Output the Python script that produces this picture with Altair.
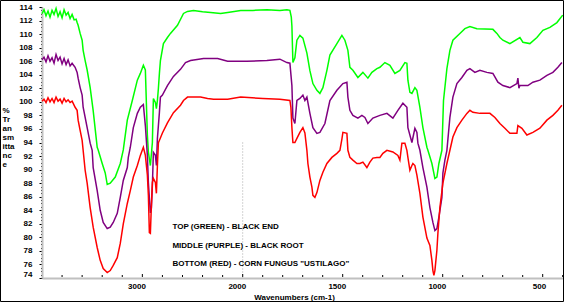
import altair as alt
import pandas as pd

# ---------------- data (wavenumber cm-1, % transmittance) ----------------
green_wn = [4000, 3980, 3960, 3940, 3920, 3900, 3880, 3860, 3840, 3820, 3800, 3780, 3760, 3740, 3720, 3700, 3680,
            3660, 3650, 3640, 3620, 3600, 3590, 3570, 3550, 3520, 3490, 3450, 3440, 3400, 3370, 3350, 3320, 3270,
            3220, 3190, 3150, 3100, 3050, 3020, 2990, 2970, 2950, 2940, 2920, 2900, 2890, 2870, 2860, 2850, 2840,
            2830, 2820, 2790, 2750, 2720, 2650, 2590, 2550, 2490, 2400, 2320, 2220, 2150, 2020, 1949, 1879, 1814,
            1779, 1764, 1757, 1754, 1749, 1739, 1729, 1714, 1699, 1679, 1664, 1649, 1629, 1614, 1599, 1579, 1564,
            1529, 1504, 1489, 1474, 1464, 1449, 1424, 1399, 1374, 1354, 1329, 1314, 1289, 1264, 1239, 1214, 1189,
            1179, 1174, 1164, 1154, 1139, 1129, 1114, 1099, 1079, 1074, 1054, 1039, 1029, 1019, 1004, 996, 979,
            964, 949, 914, 889, 864, 829, 749, 729, 714, 699, 664, 614, 599, 564, 529, 499, 464, 429, 400]
green_t = [113.0, 113.6, 112.7, 113.4, 112.5, 113.5, 112.9, 113.8, 112.6, 113.3, 112.4, 113.6, 112.8, 113.2, 112.3,
           112.9, 112.1, 112.2, 111.7, 111.3, 110.1, 109.1, 107.6, 106.1, 104.7, 102.1, 98.7, 93.3, 92.9, 90.9, 89.5,
           87.8, 88.0, 88.9, 90.9, 92.9, 97.3, 100.2, 103.2, 104.2, 105.4, 104.7, 95.1, 92.6, 90.6, 94.0, 100.5,
           99.9, 99.0, 100.2, 102.0, 104.2, 106.1, 108.6, 109.5, 110.1, 111.3, 113.05, 113.35, 113.5, 113.3, 113.2,
           113.05, 113.2, 113.5, 113.5, 113.6, 113.5, 113.6, 113.5, 112.5, 111.2, 105.8, 106.5, 109.1, 109.8, 109.4,
           107.2, 104.6, 102.7, 101.7, 101.25, 102.1, 104.65, 106.9, 108.6, 109.8, 109.1, 107.6, 105.1, 104.65,
           103.6, 104.35, 103.5, 104.35, 104.9, 105.1, 105.8, 105.4, 104.2, 104.65, 105.8, 105.7, 103.2, 101.4,
           101.25, 102.1, 101.7, 99.2, 96.2, 93.3, 92.85, 90.9, 88.7, 88.9, 90.9, 92.85, 100.2, 104.9, 107.6, 109.1,
           110.1, 110.8, 111.1, 110.8, 110.7, 110.1, 109.5, 109.1, 108.6, 109.5, 108.8, 108.6, 109.5, 110.55, 111.0,
           111.7, 112.8]

purple_wn = [4000, 3980, 3960, 3940, 3920, 3900, 3880, 3860, 3840, 3820, 3800, 3780, 3760, 3740, 3720, 3700, 3670,
             3650, 3640, 3620, 3600, 3590, 3550, 3520, 3500, 3490, 3450, 3420, 3390, 3350, 3320, 3290, 3250, 3220,
             3190, 3150, 3140, 3120, 3090, 3050, 3020, 2990, 2970, 2950, 2940, 2920, 2910, 2900, 2890, 2870, 2860,
             2850, 2830, 2820, 2800, 2750, 2690, 2620, 2570, 2520, 2390, 2250, 2150, 2020, 1979, 1879, 1814, 1779,
             1764, 1754, 1749, 1739, 1729, 1714, 1699, 1689, 1679, 1664, 1649, 1629, 1614, 1589, 1564, 1529, 1499,
             1479, 1474, 1464, 1449, 1424, 1404, 1389, 1374, 1349, 1314, 1279, 1249, 1224, 1199, 1179, 1174, 1154,
             1139, 1129, 1124, 1114, 1099, 1079, 1064, 1049, 1039, 1029, 1019, 1004, 999, 989, 979, 964, 949, 929,
             904, 879, 864, 839, 814, 779, 749, 724, 699, 664, 629, 624, 619, 614, 574, 549, 514, 479, 449, 424, 404]
purple_t = [106.2, 106.6, 105.9, 106.8, 106.0, 106.5, 105.7, 107.0, 106.1, 106.6, 105.6, 106.4, 105.5, 106.2, 105.3,
            105.7, 105.1, 104.35, 103.5, 102.1, 101.0, 99.2, 96.2, 93.9, 92.85, 90.3, 86.9, 84.0, 82.2, 81.3, 81.5,
            82.2, 83.55, 85.9, 88.4, 90.3, 91.8, 93.3, 96.2, 98.3, 99.2, 99.6, 96.5, 92.1, 88.1, 83.6, 84.3, 87.7,
            92.55, 92.1, 90.6, 94.6, 98.45, 100.7, 101.0, 102.4, 103.75, 104.8, 105.8, 106.1, 106.4, 106.4, 106.0,
            106.0, 106.0, 106.1, 106.3, 105.8, 105.7, 102.4, 97.6, 96.8, 100.2, 100.5, 101.0, 100.2, 100.7, 98.3,
            96.2, 95.35, 95.5, 96.8, 100.2, 101.7, 102.7, 102.9, 100.7, 98.75, 98.0, 97.6, 98.0, 97.7, 96.8, 97.6,
            98.0, 98.3, 97.6, 98.75, 99.8, 99.2, 96.2, 94.0, 96.1, 95.5, 93.9, 92.85, 90.3, 87.4, 84.4, 82.2, 81.0,
            81.3, 83.0, 85.9, 89.5, 91.4, 92.85, 97.7, 100.7, 102.7, 103.6, 104.65, 104.9, 104.35, 104.65, 104.35,
            104.2, 102.9, 102.4, 102.1, 102.7, 103.5, 102.0, 102.4, 102.4, 102.9, 103.2, 103.9, 104.35, 105.1, 105.8]

red_wn = [4000, 3980, 3960, 3940, 3920, 3900, 3880, 3860, 3840, 3820, 3800, 3780, 3760, 3740, 3720, 3700, 3690, 3670,
          3650, 3640, 3620, 3600, 3590, 3570, 3550, 3520, 3490, 3450, 3420, 3390, 3350, 3320, 3290, 3250, 3220, 3190,
          3150, 3120, 3090, 3050, 3020, 2990, 2970, 2950, 2940, 2930, 2920, 2910, 2900, 2890, 2870, 2860, 2850, 2840,
          2800, 2750, 2690, 2620, 2590, 2550, 2420, 2350, 2290, 2150, 2020, 1899, 1814, 1764, 1759, 1754, 1749, 1739,
          1729, 1714, 1699, 1689, 1679, 1674, 1664, 1654, 1649, 1639, 1629, 1614, 1599, 1579, 1554, 1529, 1514, 1504,
          1499, 1479, 1474, 1464, 1449, 1429, 1414, 1399, 1379, 1364, 1349, 1329, 1314, 1299, 1279, 1249, 1224, 1214,
          1204, 1189, 1179, 1174, 1164, 1154, 1149, 1139, 1129, 1114, 1099, 1079, 1064, 1054, 1049, 1044, 1039, 1029,
          1024, 1014, 999, 979, 964, 949, 929, 904, 879, 864, 849, 814, 764, 739, 714, 689, 664, 629, 624, 604, 579,
          549, 514, 479, 449, 424, 404]
red_t = [100.1, 100.4, 99.9, 100.6, 100.0, 100.5, 99.9, 100.7, 100.1, 100.4, 99.8, 100.5, 100.0, 100.3, 99.9, 100.1,
         99.8, 99.2, 98.75, 97.3, 95.8, 94.3, 92.85, 89.9, 88.0, 84.4, 81.5, 78.5, 76.6, 75.4, 74.8, 75.1, 75.85, 77.0,
         79.1, 82.0, 85.0, 86.9, 88.9, 90.6, 92.1, 93.3, 92.1, 89.2, 86.2, 80.7, 80.6, 84.7, 88.1, 88.7, 88.1, 86.5,
         90.6, 93.95, 95.4, 96.9, 98.4, 99.5, 100.2, 100.7, 100.7, 100.5, 100.4, 100.4, 100.7, 100.5, 100.4, 100.2,
         99.2, 96.2, 94.0, 94.0, 94.6, 95.5, 96.2, 95.4, 92.85, 90.9, 88.9, 87.4, 86.2, 85.9, 86.6, 88.4, 89.6, 90.9,
         91.8, 92.4, 92.85, 94.5, 95.5, 95.35, 92.85, 91.8, 91.4, 90.9, 90.9, 91.1, 90.3, 91.1, 91.7, 91.8, 91.8,
         92.4, 92.85, 92.6, 92.1, 91.4, 93.9, 93.9, 92.85, 91.8, 89.9, 90.6, 90.9, 90.6, 89.2, 86.5, 83.0, 79.9,
         78.8, 76.6, 75.1, 74.4, 75.1, 78.1, 80.6, 84.4, 88.0, 90.9, 92.85, 94.8, 96.2, 97.3, 98.3, 98.75, 98.45,
         98.3, 98.3, 97.7, 96.8, 96.1, 95.35, 95.35, 96.5, 96.1, 95.1, 95.5, 96.1, 97.3, 98.0, 98.75, 99.5]

series_names = ["green", "purple", "red"]
series_colors = ["#00ff00", "#800080", "#ff0000"]

note_text = ["TOP (GREEN) - BLACK END", "MIDDLE (PURPLE) - BLACK ROOT", 'BOTTOM (RED) - CORN FUNGUS "USTILAGO"']
note_wn = [2700, 2700, 2700]
note_t = [81.5, 78.7, 76.0]

x_labels = [3000, 2000, 1500, 1000, 500]
x_minor = [3800, 3600, 3400, 3200, 2800, 2600, 2400, 2200, 1900, 1800, 1700, 1600, 1400, 1300, 1200, 1100,
           900, 800, 700, 600, 400]
y_ticks = [74 + 0.5 * i for i in range(81)]

break_wn = [2000, 2000]
break_t = [94.0, 74.0]

# ---------------- build ----------------
rows = []
for name, wns, ts in zip(series_names, [green_wn, purple_wn, red_wn], [green_t, purple_t, red_t]):
    for w, t in zip(wns, ts):
        rows.append({"wn": w, "t": t, "series": name})
df = pd.DataFrame(rows)

FONT = "Liberation Sans"
W, H = 521, 271
xscale = alt.Scale(domain=[4000, 2000, 400], range=[0, 200.7, 520.7])
yscale = alt.Scale(domain=[74, 114], zero=False, nice=False)

xaxis = alt.Axis(
    values=x_labels, format="d", ticks=False, tickSize=0, grid=False,
    domainColor="#c0c0c0", domainWidth=2,
    labelFont=FONT, labelFontSize=8, labelFontWeight="bold", labelColor="black",
    labelAlign="right", labelOffset=3, labelPadding=4, labelFlush=False, labelOverlap=False,
    title="Wavenumbers (cm-1)", titleFont=FONT, titleFontSize=8, titleFontWeight="bold",
    titleColor="black", titleX=252, titleY=19, titleBaseline="middle", titleAlign="center")
yaxis = alt.Axis(
    values=y_ticks, labelExpr="datum.value % 2 == 0 ? format(datum.value, 'd') : ''",
    grid=False, domainColor="#c0c0c0", domainWidth=2,
    tickColor="black", tickWidth=1,
    tickSize={"condition": {"test": "datum.value % 2 == 0", "value": 3}, "value": 1.5},
    labelOffset={"condition": {"test": "datum.value == 74", "value": -4}, "value": 0},
    labelFont=FONT, labelFontSize=8, labelFontWeight="bold", labelColor="black",
    labelPadding=7, labelOverlap=False, labelFlush=False, labelBaseline="middle",
    title=["%", "Tr", "an", "sm", "itta", "nc", "e"], titleFont=FONT, titleFontSize=8,
    titleFontWeight="bold", titleColor="black", titleAngle=0, titleAlign="left",
    titleBaseline="top", titleX=-40, titleY=99, titleLineHeight=9)

X = alt.X("wn:Q", scale=xscale, axis=xaxis)
Y = alt.Y("t:Q", scale=yscale, axis=yaxis)

lines = alt.Chart(df).mark_line(strokeWidth=1.5, strokeJoin="miter").encode(
    x=X, y=Y,
    color=alt.Color("series:N", scale=alt.Scale(domain=series_names, range=series_colors), legend=None),
    detail="series:N",
)

tick_df_major = pd.DataFrame({"wn": x_labels})
tick_df_minor = pd.DataFrame({"wn": x_minor})
ticks_major = alt.Chart(tick_df_major).mark_rule(color="black", strokeWidth=1).encode(
    x=X, y=alt.value(H - 4), y2=alt.value(H - 1))
ticks_minor = alt.Chart(tick_df_minor).mark_rule(color="black", strokeWidth=1).encode(
    x=X, y=alt.value(H - 3), y2=alt.value(H - 1))

break_df = pd.DataFrame({"wn": break_wn[:1], "t": break_t[:1], "t2": break_t[1:]})
break_rule = alt.Chart(break_df).mark_rule(color="#a8a8a8", strokeWidth=1, strokeDash=[1, 2]).encode(
    x=X, y=Y, y2="t2:Q")

note_df = pd.DataFrame({"wn": note_wn, "t": note_t, "text": note_text})
notes = alt.Chart(note_df).mark_text(align="left", baseline="middle", font=FONT, fontSize=8,
                                     fontWeight="bold", color="black").encode(
    x=X, y=Y, text="text:N")

frame = alt.Chart(pd.DataFrame({"a": [0]})).mark_rect(fillOpacity=0, stroke="black", strokeWidth=1).encode(
    x=alt.value(-41.5), x2=alt.value(W + 0.5), y=alt.value(-6.5), y2=alt.value(H + 23.5))

chart = alt.layer(lines, break_rule, ticks_major, ticks_minor, notes, frame).properties(
    width=W, height=H,
    autosize=alt.AutoSizeParams(type="none"),
    padding={"left": 42, "top": 7, "right": 2, "bottom": 25},
    background="white",
).configure_view(stroke=None)

chart.save("out.html", embed_options={"renderer": "svg", "actions": False})
